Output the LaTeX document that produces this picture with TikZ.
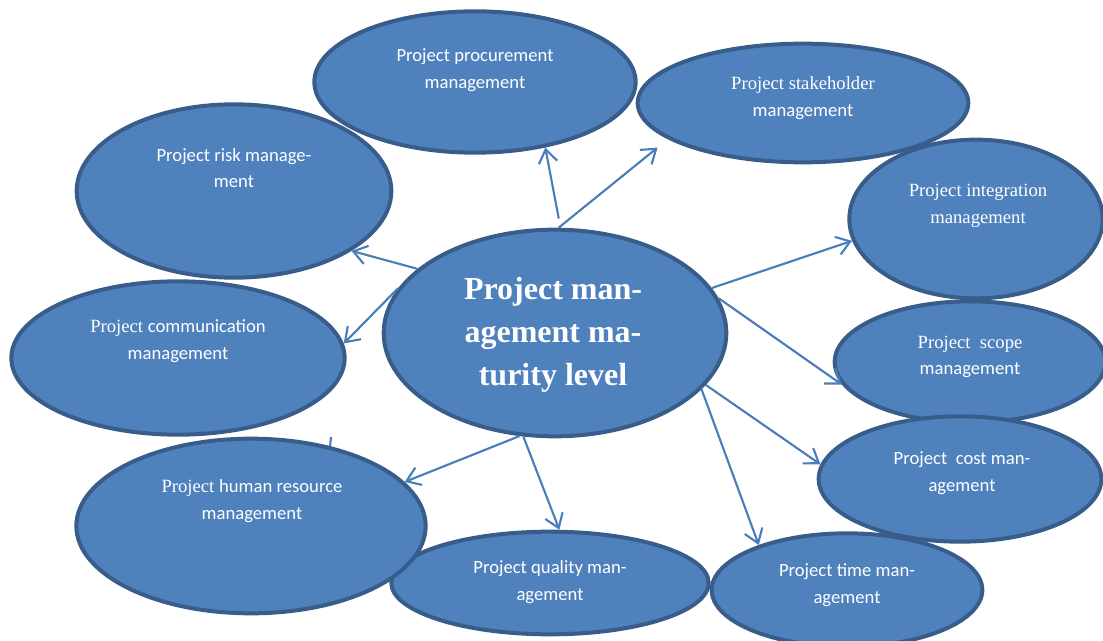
\documentclass[tikz,border=0pt]{standalone}
\usepackage{fontspec}
\setmainfont{Liberation Serif}
\newfontfamily\calib{Carlito}
\usetikzlibrary{arrows.meta, shapes.geometric}

\definecolor{bubblefill}{HTML}{4F81BD}
\definecolor{bubbleline}{HTML}{385D8A}
\definecolor{linkblue}{HTML}{4A7EBB}

\tikzset{
    bubble/.style={ellipse, draw=bubbleline, fill=bubblefill, line width=3pt, inner sep=0pt},
    lbl/.style={text=white, align=center, font=\fontsize{14}{20}\selectfont},
    sanslbl/.style={lbl, font=\calib\fontsize{14}{20}\selectfont},
    link/.style={draw=linkblue, line width=1.6pt, -{Straight Barb[length=10pt, width=14pt]}}
}

\begin{document}
\begin{tikzpicture}[x=0.75pt, y=-0.75pt]
    \useasboundingbox (0,0) rectangle (1103,641);

    % Outer ring of knowledge areas
    \node[bubble, minimum width=241pt, minimum height=106pt] (procure) at (475,82) {};
    \node[bubble, minimum width=248pt, minimum height=89pt] (stake) at (803,103) {};
    \node[bubble, minimum width=190pt, minimum height=119pt] (integ) at (976,219) {};
    \node[bubble, minimum width=236pt, minimum height=130pt] (risk) at (234,191) {};
    \node[bubble, minimum width=250pt, minimum height=115pt] (comm) at (178,358) {};
    \node[bubble, minimum width=203pt, minimum height=91pt] (scope) at (970,362) {};
    \node[bubble, minimum width=212pt, minimum height=94pt] (cost) at (960,479) {};
    \node[bubble, minimum width=203pt, minimum height=85pt] (timeb) at (847,590) {};
    \node[bubble, minimum width=238pt, minimum height=77pt] (qual) at (550,583) {};
    % short piece of line peeking above the human resource bubble
    \coordinate (stub) at (331,437);
    \draw[draw=linkblue, line width=1.6pt] (stub) -- ++(-1,10);
    \node[bubble, minimum width=262pt, minimum height=131pt] (hr) at (251,526) {};

    % Central bubble
    \node[bubble, minimum width=257pt, minimum height=155pt] (mat) at (555,333) {};

    % Labels
    \node[sanslbl] (procuretxt) at (475,70) {Project procurement\\management};
    \node[lbl] (staketxt) at (803,98) {Project stakeholder\\{\calib management}};
    \node[lbl] (integtxt) at (978,206) {Project integration\\management};
    \node[sanslbl] (risktxt) at (234,168) {Project risk manage-\\ment};
    \node[lbl] (commtxt) at (178,341) {Project {\calib communication}\\{\calib management}};
    \node[lbl] (scopetxt) at (970,357) {Project \ scope\\{\calib management}};
    \node[sanslbl] (costtxt) at (962,473) {Project \ cost man-\\agement};
    \node[sanslbl] (timetxt) at (847,585) {Project time man-\\agement};
    \node[sanslbl] (qualtxt) at (550,582) {Project quality man-\\agement};
    \node[lbl] (hrtxt) at (252,501) {Project {\calib human resource}\\{\calib management}};
    \node[lbl, font=\fontsize{24}{32}\selectfont\bfseries] (mattxt) at (553,335)
        {Project man-\\agement ma-\\turity level};

    % Arrows from the centre out
    \draw[link, shorten <=7pt] (mat.87) -- (procure.-43);
    \draw[link, shorten >=10pt] (mat.88) -- (stake.195);
    \draw[link] (mat.155) -- (risk.-27);
    \draw[link] (mat.164) -- (comm.5);
    \draw[link] (mat.251) -- (hr.16);
    \draw[link] (mat.253) -- (qual.80);
    \draw[link] (mat.-21) -- (timeb.153);
    \draw[link] (mat.-19) -- (cost.174);
    \draw[link] (mat.12) -- (scope.190);
    \draw[link] (mat.16) -- (integ.190);
\end{tikzpicture}
\end{document}
